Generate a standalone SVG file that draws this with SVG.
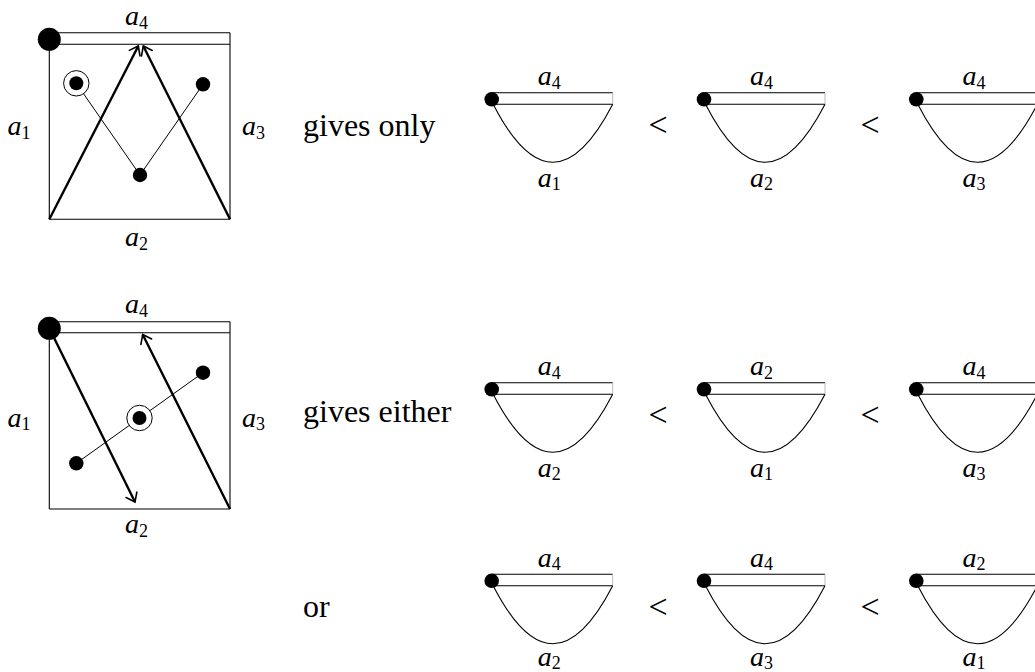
<svg xmlns="http://www.w3.org/2000/svg" width="1035" height="672" viewBox="0 0 1035 672">
<style>
.edge{stroke:#000;stroke-width:1.1;fill:none}
.thin{stroke:#000;stroke-width:1;fill:none}
.thick{stroke:#000;stroke-width:2.4;fill:none;marker-end:url(#to)}
.dot{fill:#000}
.ring{fill:#fff;stroke:#000;stroke-width:1}
.lab{font-family:"Liberation Serif",serif;font-style:italic;font-size:28px;fill:#000}
.sub{font-style:normal;font-size:18px}
.txt{font-family:"Liberation Serif",serif;font-size:32px;fill:#000}
.lt{font-family:"Liberation Serif",serif;font-size:34px;text-anchor:middle;fill:#000}
</style>
<defs>
<marker id="to" markerUnits="userSpaceOnUse" viewBox="-10 -10 20 20" markerWidth="20" markerHeight="20" refX="0" refY="0" orient="auto" overflow="visible">
<path d="M-8 -6 Q-2 -1.5 0 0 Q-2 1.5 -8 6" fill="none" stroke="#000" stroke-width="1.6" stroke-linecap="round"/>
</marker>
<g id="bub">
<line x1="0" y1="-6.6" x2="121" y2="-6.6" class="edge"/>
<line x1="0" y1="5" x2="121" y2="5" class="edge"/>
<line x1="121" y1="-6.6" x2="121" y2="5" stroke="#aaa" stroke-width="0.8"/>
<path d="M1.5 5 Q61 121 121 5" class="edge"/>
<circle r="7.3" class="dot"/>
</g>
</defs>
<rect width="1035" height="672" fill="#fff"/>

<g id="square-top">
<line x1="49.3" y1="39" x2="49.3" y2="219.3" class="edge"/>
<line x1="49.3" y1="219.3" x2="230" y2="219.3" class="edge"/>
<line x1="230" y1="32.7" x2="230" y2="219.3" class="edge"/>
<line x1="49.3" y1="32.7" x2="230" y2="32.7" class="edge"/>
<line x1="49.3" y1="44.3" x2="230" y2="44.3" class="edge"/>
<text class="lab" x="125" y="25">a<tspan class="sub" dy="3.5">4</tspan></text>
<text class="lab" x="7.5" y="135">a<tspan class="sub" dy="3.5">1</tspan></text>
<text class="lab" x="242" y="135">a<tspan class="sub" dy="3.5">3</tspan></text>
<text class="lab" x="125" y="246">a<tspan class="sub" dy="3.5">2</tspan></text>
</g>
<g id="square-bottom">
<line x1="49.3" y1="328" x2="49.3" y2="509" class="edge"/>
<line x1="49.3" y1="509" x2="230" y2="509" class="edge"/>
<line x1="230" y1="321.7" x2="230" y2="509" class="edge"/>
<line x1="49.3" y1="321.7" x2="230" y2="321.7" class="edge"/>
<line x1="49.3" y1="332.7" x2="230" y2="332.7" class="edge"/>
<text class="lab" x="125" y="313">a<tspan class="sub" dy="3.5">4</tspan></text>
<text class="lab" x="7.5" y="426.5">a<tspan class="sub" dy="3.5">1</tspan></text>
<text class="lab" x="242" y="426.5">a<tspan class="sub" dy="3.5">3</tspan></text>
<text class="lab" x="125" y="533">a<tspan class="sub" dy="3.5">2</tspan></text>
</g>

<g id="connectors">
<path d="M76.3 83.3 L140 175 L203 84.3" class="thin"/>
<line x1="76.3" y1="463.3" x2="203" y2="372.7" class="thin"/>
<line x1="49.3" y1="219.3" x2="138.3" y2="46" class="thick"/>
<line x1="230" y1="219.3" x2="143.3" y2="46" class="thick"/>
<line x1="49.3" y1="328.3" x2="135" y2="502" class="thick"/>
<line x1="230" y1="509" x2="142.7" y2="334.5" class="thick"/>
</g>

<g id="corner-top"><circle cx="49.3" cy="39.3" r="11.5" class="dot"/></g>
<g id="corner-bottom"><circle cx="49.3" cy="328.3" r="11.5" class="dot"/></g>
<g id="t-ring"><circle cx="76.3" cy="83.3" r="12.7" class="ring"/><circle cx="76.3" cy="83.3" r="7" class="dot"/></g>
<g id="t-right"><circle cx="203" cy="84.3" r="7.2" class="dot"/></g>
<g id="t-mid"><circle cx="140" cy="175" r="7.2" class="dot"/></g>
<g id="b-ring"><circle cx="139.5" cy="418" r="12.7" class="ring"/><circle cx="139.5" cy="418" r="7" class="dot"/></g>
<g id="b-left"><circle cx="76.3" cy="463.3" r="7.2" class="dot"/></g>
<g id="b-right"><circle cx="203" cy="372.7" r="7.2" class="dot"/></g>

<text class="txt" x="303" y="136">gives only</text>
<text class="txt" x="303" y="422.3">gives either</text>
<text class="txt" x="303" y="616.7">or</text>

<text class="lt" x="658" y="136">&lt;</text>
<text class="lt" x="870" y="136">&lt;</text>
<text class="lt" x="658" y="426">&lt;</text>
<text class="lt" x="870" y="426">&lt;</text>
<text class="lt" x="658" y="617.5">&lt;</text>
<text class="lt" x="870" y="617.5">&lt;</text>

<g id="r1c1"><use href="#bub" x="491.7" y="99.3"/>
<text class="lab" x="537.8" y="85">a<tspan class="sub" dy="3.5">4</tspan></text>
<text class="lab" x="537.8" y="186.5">a<tspan class="sub" dy="3.5">1</tspan></text></g>
<g id="r1c2"><use href="#bub" x="704" y="99.3"/>
<text class="lab" x="750.1" y="85">a<tspan class="sub" dy="3.5">4</tspan></text>
<text class="lab" x="750.1" y="186.5">a<tspan class="sub" dy="3.5">2</tspan></text></g>
<g id="r1c3"><use href="#bub" x="916.3" y="99.3"/>
<text class="lab" x="962.4" y="85">a<tspan class="sub" dy="3.5">4</tspan></text>
<text class="lab" x="962.4" y="186.5">a<tspan class="sub" dy="3.5">3</tspan></text></g>

<g id="r2c1"><use href="#bub" x="491.7" y="389.3"/>
<text class="lab" x="537.8" y="375">a<tspan class="sub" dy="3.5">4</tspan></text>
<text class="lab" x="537.8" y="476.5">a<tspan class="sub" dy="3.5">2</tspan></text></g>
<g id="r2c2"><use href="#bub" x="704" y="389.3"/>
<text class="lab" x="750.1" y="375">a<tspan class="sub" dy="3.5">2</tspan></text>
<text class="lab" x="750.1" y="476.5">a<tspan class="sub" dy="3.5">1</tspan></text></g>
<g id="r2c3"><use href="#bub" x="916.3" y="389.3"/>
<text class="lab" x="962.4" y="375">a<tspan class="sub" dy="3.5">4</tspan></text>
<text class="lab" x="962.4" y="476.5">a<tspan class="sub" dy="3.5">3</tspan></text></g>

<g id="r3c1"><use href="#bub" x="491.7" y="580.8"/>
<text class="lab" x="537.8" y="566.5">a<tspan class="sub" dy="3.5">4</tspan></text>
<text class="lab" x="537.8" y="665.5">a<tspan class="sub" dy="3">2</tspan></text></g>
<g id="r3c2"><use href="#bub" x="704" y="580.8"/>
<text class="lab" x="750.1" y="566.5">a<tspan class="sub" dy="3.5">4</tspan></text>
<text class="lab" x="750.1" y="665.5">a<tspan class="sub" dy="3">3</tspan></text></g>
<g id="r3c3"><use href="#bub" x="916.3" y="580.8"/>
<text class="lab" x="962.4" y="566.5">a<tspan class="sub" dy="3.5">2</tspan></text>
<text class="lab" x="962.4" y="665.5">a<tspan class="sub" dy="3">1</tspan></text></g>
</svg>
